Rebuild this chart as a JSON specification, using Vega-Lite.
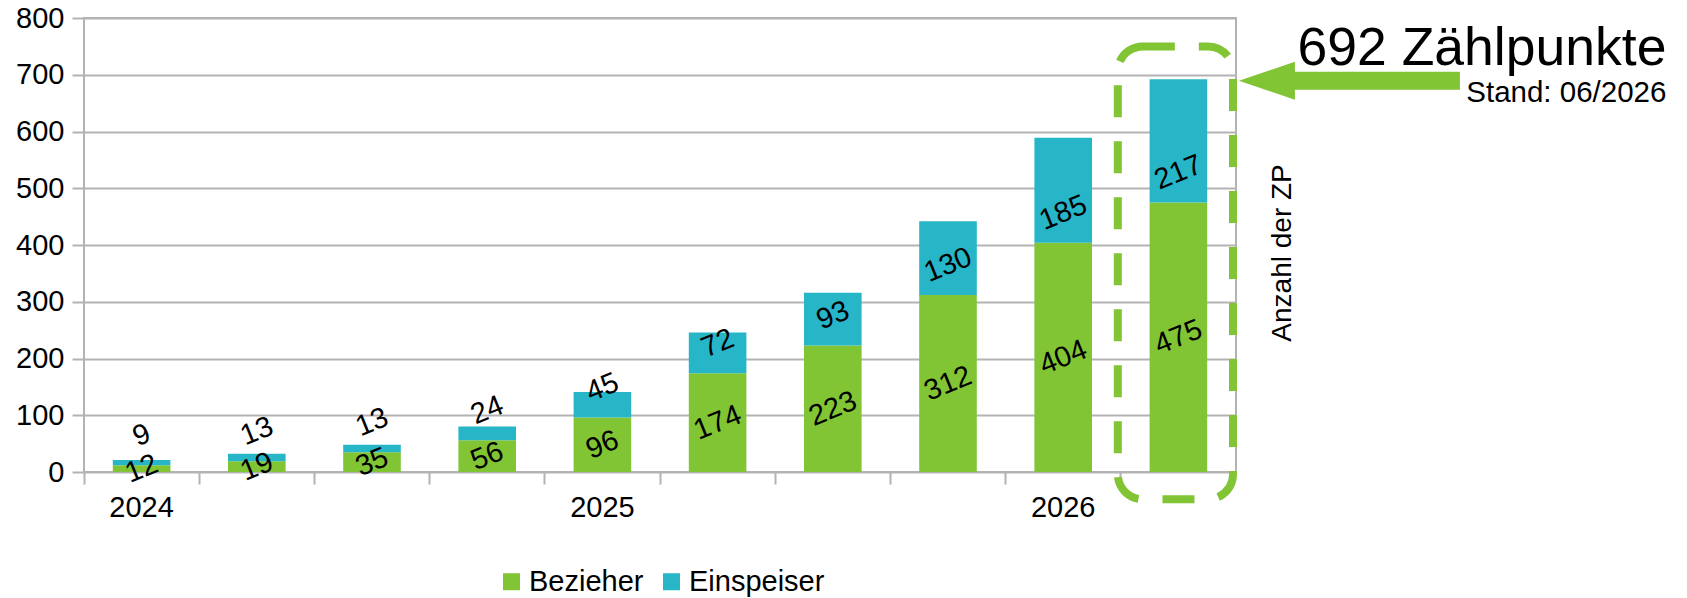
{
  "$schema": "https://vega.github.io/schema/vega-lite/v6.json",
  "width": 1152,
  "height": 454,
  "autosize": {"type": "none"},
  "padding": {"left": 84, "top": 18, "right": 451, "bottom": 126},
  "background": "white",
  "config": {
    "font": "Liberation Sans",
    "view": {"stroke": "#b3b3b3", "strokeWidth": 2},
    "text": {"font": "Liberation Sans", "color": "black"}
  },
  "datasets": {
    "main": [
      {"period": "Q1 2024", "series": "Bezieher", "value": 12},
      {"period": "Q1 2024", "series": "Einspeiser", "value": 9},
      {"period": "Q2 2024", "series": "Bezieher", "value": 19},
      {"period": "Q2 2024", "series": "Einspeiser", "value": 13},
      {"period": "Q3 2024", "series": "Bezieher", "value": 35},
      {"period": "Q3 2024", "series": "Einspeiser", "value": 13},
      {"period": "Q4 2024", "series": "Bezieher", "value": 56},
      {"period": "Q4 2024", "series": "Einspeiser", "value": 24},
      {"period": "Q1 2025", "series": "Bezieher", "value": 96},
      {"period": "Q1 2025", "series": "Einspeiser", "value": 45},
      {"period": "Q2 2025", "series": "Bezieher", "value": 174},
      {"period": "Q2 2025", "series": "Einspeiser", "value": 72},
      {"period": "Q3 2025", "series": "Bezieher", "value": 223},
      {"period": "Q3 2025", "series": "Einspeiser", "value": 93},
      {"period": "Q4 2025", "series": "Bezieher", "value": 312},
      {"period": "Q4 2025", "series": "Einspeiser", "value": 130},
      {"period": "Q1 2026", "series": "Bezieher", "value": 404},
      {"period": "Q1 2026", "series": "Einspeiser", "value": 185},
      {"period": "Q2 2026", "series": "Bezieher", "value": 475},
      {"period": "Q2 2026", "series": "Einspeiser", "value": 217}
    ],
    "highlight": [
      {"period": "Q2 2026", "low": -48, "high": 750}
    ],
    "summary": [
      {"period": "Q2 2026", "total": 692, "label": "692 Zählpunkte", "stand": "Stand: 06/2026", "axisTitle": "Anzahl der ZP", "mid": 386}
    ]
  },
  "encoding": {
    "x": {
      "field": "period", "type": "nominal",
      "scale": {"type": "band", "domain": ["Q1 2024","Q2 2024","Q3 2024","Q4 2024","Q1 2025","Q2 2025","Q3 2025","Q4 2025","Q1 2026","Q2 2026"], "paddingInner": 0, "paddingOuter": 0},
      "axis": {
        "title": null,
        "labelExpr": "isString(datum.value) && indexof(datum.value, 'Q1') == 0 ? slice(datum.value, 3) : ''",
        "labelOverlap": false,
        "bandPosition": 0,
        "tickSize": 12, "tickColor": "#b3b3b3", "tickWidth": 2,
        "domain": false, "grid": false,
        "labelAngle": 0, "labelFontSize": 29, "labelColor": "black", "labelPadding": 9, "labelFont": "Liberation Sans"
      }
    }
  },
  "layer": [
    {
      "data": {"name": "main"},
      "mark": {"type": "bar", "width": {"band": 0.5}},
      "encoding": {
        "y": {
          "field": "value", "type": "quantitative", "stack": "zero",
          "scale": {"domain": [0, 800], "nice": false},
          "axis": {
            "title": null,
            "values": [0, 100, 200, 300, 400, 500, 600, 700, 800],
            "grid": true, "gridColor": "#b3b3b3", "gridWidth": 2,
            "domain": false,
            "tickSize": 12, "tickColor": "#b3b3b3", "tickWidth": 2,
            "labelFontSize": 29, "labelColor": "black", "labelPadding": 8, "labelFont": "Liberation Sans"
          }
        },
        "color": {
          "field": "series", "type": "nominal",
          "scale": {"domain": ["Bezieher", "Einspeiser"], "range": ["#81c434", "#26b6c8"]},
          "legend": {
            "title": null, "orient": "none", "legendX": 413, "legendY": 549,
            "direction": "horizontal", "symbolType": "square", "symbolSize": 289,
            "symbolStrokeWidth": 0, "labelFontSize": 29, "labelFont": "Liberation Sans",
            "labelColor": "black", "labelOffset": 3, "columnPadding": 13
          }
        },
        "order": {"field": "series", "sort": "ascending"}
      }
    },
    {
      "data": {"name": "main"},
      "transform": [{"filter": "datum.series == 'Bezieher'"}],
      "mark": {"type": "text", "angle": -22, "fontSize": 29, "align": "center", "baseline": "middle"},
      "encoding": {
        "y": {"field": "value", "type": "quantitative", "stack": "zero", "bandPosition": 0.5},
        "text": {"field": "value", "type": "quantitative"}
      }
    },
    {
      "data": {"name": "main"},
      "transform": [
        {"stack": "value", "groupby": ["period"], "sort": [{"field": "series", "order": "ascending"}], "as": ["v0", "v1"]},
        {"filter": "datum.series == 'Einspeiser'"}
      ],
      "mark": {"type": "text", "angle": -22, "fontSize": 29, "align": "center", "baseline": "middle", "yOffset": -30},
      "encoding": {
        "y": {"field": "v0", "type": "quantitative"},
        "text": {"field": "value", "type": "quantitative"}
      }
    },
    {
      "data": {"name": "highlight"},
      "mark": {"type": "bar", "width": {"band": 1}, "fill": "transparent", "stroke": "#81c434", "strokeWidth": 8, "strokeDash": [32, 24], "cornerRadius": 25, "xOffset": -3},
      "encoding": {
        "y": {"field": "low", "type": "quantitative"},
        "y2": {"field": "high"}
      }
    },
    {
      "data": {"name": "summary"},
      "mark": {"type": "point", "shape": "M -1 0 L -0.493 -0.172 L -0.493 -0.081 L 1 -0.081 L 1 0.081 L -0.493 0.081 L -0.493 0.172 Z", "size": 48841, "filled": true, "color": "#81c434", "opacity": 1, "strokeWidth": 0, "xOffset": 171, "yOffset": 1.5},
      "encoding": {
        "y": {"field": "total", "type": "quantitative"}
      }
    },
    {
      "data": {"name": "summary"},
      "mark": {"type": "text", "fontSize": 53.5, "align": "right", "baseline": "alphabetic", "xOffset": 488, "yOffset": -14},
      "encoding": {
        "y": {"field": "total", "type": "quantitative"},
        "text": {"field": "label"}
      }
    },
    {
      "data": {"name": "summary"},
      "mark": {"type": "text", "fontSize": 29.5, "align": "right", "baseline": "alphabetic", "xOffset": 488, "yOffset": 23},
      "encoding": {
        "y": {"field": "total", "type": "quantitative"},
        "text": {"field": "stand"}
      }
    },
    {
      "data": {"name": "summary"},
      "mark": {"type": "text", "fontSize": 28, "align": "center", "baseline": "middle", "angle": 270, "xOffset": 105},
      "encoding": {
        "y": {"field": "mid", "type": "quantitative"},
        "text": {"field": "axisTitle"}
      }
    }
  ]
}
